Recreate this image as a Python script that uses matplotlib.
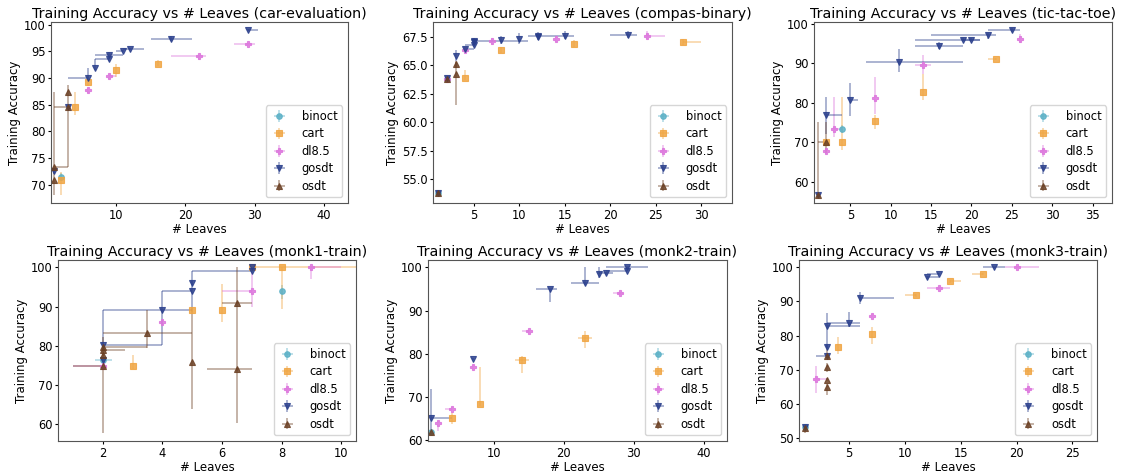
import matplotlib
matplotlib.use("Agg")
import matplotlib.pyplot as plt
from matplotlib.colors import to_rgba
import numpy as np

methods = ["binoct", "cart", "dl8.5", "gosdt", "osdt"]
colors = ["#5ab0c6", "#f0a542", "#dd76dd", "#2a3f8c", "#6b4024"]
markers = ["o", "s", "P", "v", "^"]
msizes = [4, 4, 5, 4, 4]

# rows: (method, leaves, accuracy, x_low, x_high, y_low, y_high)
car_rows = [
    ("binoct", 2, 71.5, 2, 2, 70.8, 72.3),
    ("cart", 2, 70.9, 2, 2, 68.1, 72.4),
    ("cart", 4, 84.6, 4, 4, 83.0, 87.3),
    ("cart", 6, 89.3, 6, 6, 88.5, 90.5),
    ("cart", 10, 91.6, 10, 10, 90.2, 92.6),
    ("cart", 16, 92.7, 16, 16, 92.2, 93.4),
    ("dl8.5", 6, 87.7, 6, 6, 87.2, 88.2),
    ("dl8.5", 9, 90.3, 9, 10, 89.9, 90.8),
    ("dl8.5", 22, 94.1, 18, 23, 93.4, 94.4),
    ("dl8.5", 29, 96.3, 27, 30, 96.0, 96.6),
    ("gosdt", 1, 72.6, 1, 1, 72.0, 73.2),
    ("gosdt", 3, 84.6, 3, 3, 84.3, 84.9),
    ("gosdt", 6, 90.1, 3, 6, 89.7, 91.9),
    ("gosdt", 7, 91.9, 7, 7, 91.5, 93.5),
    ("gosdt", 9, 93.6, 7, 9, 93.2, 94.0),
    ("gosdt", 9, 94.4, 7, 11, 94.0, 94.8),
    ("gosdt", 11, 95.1, 10, 11, 94.9, 95.3),
    ("gosdt", 12, 95.5, 11, 14, 95.3, 95.7),
    ("gosdt", 18, 97.4, 15, 21, 97.0, 97.8),
    ("gosdt", 29, 99.0, 29, 30.5, 98.8, 99.2),
    ("osdt", 1, 70.9, 1, 1, 68.1, 87.4),
    ("osdt", 1, 73.3, 1, 3, 73.3, 73.3),
    ("osdt", 3, 84.6, 1, 3, 84.6, 84.6),
    ("osdt", 3, 87.3, 3, 3, 73.3, 88.7),
]

compas_rows = [
    ("binoct", 1, 53.8, 1, 1, 53.6, 54.0),
    ("binoct", 2, 63.8, 2, 2, 63.6, 64.0),
    ("cart", 4, 63.9, 4, 4, 63.7, 64.6),
    ("cart", 8, 66.35, 8, 8, 66.1, 66.6),
    ("cart", 16, 66.85, 16, 16, 66.6, 67.2),
    ("cart", 28, 67.0, 28, 30, 66.8, 67.3),
    ("dl8.5", 2, 63.8, 2, 2, 63.6, 64.0),
    ("dl8.5", 4, 66.35, 4, 4, 66.2, 66.5),
    ("dl8.5", 7, 67.1, 7, 7, 66.8, 67.4),
    ("dl8.5", 14, 67.3, 14, 14, 67.0, 67.6),
    ("dl8.5", 24, 67.55, 24, 26, 67.3, 68.0),
    ("gosdt", 1, 53.8, 1, 1, 53.6, 54.0),
    ("gosdt", 2, 63.85, 2, 2, 63.5, 64.0),
    ("gosdt", 3, 65.8, 3, 3, 65.4, 66.3),
    ("gosdt", 4, 66.4, 4, 5, 66.2, 66.6),
    ("gosdt", 5, 66.75, 4, 5, 66.6, 67.0),
    ("gosdt", 5, 67.0, 5, 5, 66.8, 67.3),
    ("gosdt", 5, 67.15, 5, 11, 67.0, 67.4),
    ("gosdt", 8, 67.25, 8, 8, 66.9, 67.6),
    ("gosdt", 10, 67.35, 10, 10, 66.9, 67.8),
    ("gosdt", 12, 67.45, 12, 12, 67.2, 67.8),
    ("gosdt", 12, 67.6, 11, 16, 67.4, 67.9),
    ("gosdt", 15, 67.6, 15, 15, 67.3, 68.0),
    ("gosdt", 22, 67.7, 20, 23, 67.4, 68.0),
    ("osdt", 1, 53.75, 1, 1, 53.5, 54.0),
    ("osdt", 2, 63.75, 2, 2, 63.4, 64.0),
    ("osdt", 3, 64.2, 3, 3, 61.5, 65.3),
    ("osdt", 3, 65.1, 3, 3, 64.8, 65.4),
]

ttt_rows = [
    ("binoct", 4, 73.4, 4, 4, 72.5, 74.3),
    ("cart", 2, 70.1, 2, 2, 69.5, 70.5),
    ("cart", 4, 70.1, 4, 4, 68.0, 81.4),
    ("cart", 8, 75.5, 8, 8, 73.5, 77.0),
    ("cart", 14, 82.7, 14, 14, 80.8, 87.2),
    ("cart", 23, 91.1, 22, 23, 90.9, 91.4),
    ("dl8.5", 2, 67.8, 2, 2, 67.0, 68.5),
    ("dl8.5", 3, 73.4, 3, 4, 71.3, 81.4),
    ("dl8.5", 8, 81.3, 8, 8, 77.2, 86.6),
    ("dl8.5", 14, 89.5, 13, 15, 87.3, 92.0),
    ("dl8.5", 26, 96.0, 26, 26, 95.0, 97.3),
    ("gosdt", 1, 56.8, 1, 1, 56.3, 57.3),
    ("gosdt", 2, 76.8, 2, 4, 72.0, 81.5),
    ("gosdt", 5, 80.6, 5, 6, 76.7, 85.1),
    ("gosdt", 11, 90.2, 7, 19, 87.8, 93.7),
    ("gosdt", 16, 94.3, 13, 19, 93.5, 95.3),
    ("gosdt", 19, 95.9, 13, 21, 95.5, 96.3),
    ("gosdt", 20, 95.9, 19, 21, 95.6, 96.3),
    ("gosdt", 22, 97.1, 15, 23, 96.0, 97.6),
    ("gosdt", 25, 98.4, 22, 26, 98.0, 98.8),
    ("osdt", 1, 56.6, 1, 1, 56.0, 75.2),
    ("osdt", 2, 70.1, 1, 2, 67.2, 75.2),
]

monk1_rows = [
    ("binoct", 2, 76.4, 1.75, 2.3, 76.0, 76.8),
    ("binoct", 8, 94.0, 8, 8, 92.0, 95.5),
    ("cart", 3, 74.8, 3, 3, 73.9, 77.7),
    ("cart", 5, 89.0, 5, 5, 88.5, 89.5),
    ("cart", 6, 89.0, 6, 6, 86.0, 95.8),
    ("cart", 7, 100.0, 7, 7, 99.5, 100.0),
    ("cart", 8, 100.0, 7, 11, 89.4, 100.0),
    ("dl8.5", 2, 74.7, 1, 2, 74.5, 75.0),
    ("dl8.5", 4, 86.0, 4, 4, 85.5, 86.5),
    ("dl8.5", 7, 93.9, 6, 7, 89.9, 98.8),
    ("dl8.5", 9, 100.0, 9, 10, 97.0, 100.0),
    ("gosdt", 2, 76.4, 2, 2, 76.0, 77.0),
    ("gosdt", 2, 80.1, 2, 4, 80.1, 89.0),
    ("gosdt", 4, 89.0, 2, 5, 80.1, 94.0),
    ("gosdt", 5, 94.0, 4, 5, 89.0, 99.0),
    ("gosdt", 5, 96.0, 5, 5, 95.5, 96.5),
    ("gosdt", 7, 99.0, 5, 7, 98.8, 100.0),
    ("gosdt", 7, 100.0, 7, 7, 99.8, 100.0),
    ("osdt", 2, 74.7, 1, 2, 57.6, 82.2),
    ("osdt", 2, 77.7, 2, 2, 77.4, 78.0),
    ("osdt", 2, 78.8, 2, 2.75, 78.5, 79.2),
    ("osdt", 2, 79.7, 2, 3.5, 79.5, 80.0),
    ("osdt", 3.5, 83.3, 2, 5, 79.5, 89.0),
    ("osdt", 5, 75.8, 5, 5, 63.9, 89.0),
    ("osdt", 6.5, 90.9, 6, 7, 60.1, 100.0),
    ("osdt", 6.5, 73.9, 5.5, 7, 73.5, 74.3),
]

monk2_rows = [
    ("binoct", 1, 61.8, 1, 1, 61.3, 62.3),
    ("cart", 4, 65.2, 4, 4, 63.8, 66.5),
    ("cart", 8, 68.4, 8, 8, 67.8, 77.0),
    ("cart", 14, 78.5, 13, 15, 75.5, 79.5),
    ("cart", 23, 83.7, 22, 24, 81.4, 85.3),
    ("dl8.5", 2, 64.0, 2, 2, 62.0, 64.5),
    ("dl8.5", 4, 67.3, 3, 4, 67.0, 67.7),
    ("dl8.5", 7, 77.0, 7, 7, 76.5, 77.5),
    ("dl8.5", 15, 85.2, 14, 15, 84.8, 85.6),
    ("dl8.5", 28, 94.0, 27, 28.5, 93.7, 94.3),
    ("gosdt", 1, 65.2, 1, 4, 61.5, 71.8),
    ("gosdt", 7, 78.8, 7, 7, 78.5, 79.1),
    ("gosdt", 18, 94.9, 16, 19, 91.9, 95.1),
    ("gosdt", 23, 96.3, 21, 25, 96.0, 100.0),
    ("gosdt", 25, 98.5, 25, 25, 97.5, 100.0),
    ("gosdt", 26, 98.6, 25, 27, 98.3, 98.9),
    ("gosdt", 29, 99.2, 26, 29, 98.9, 99.5),
    ("gosdt", 29, 100.0, 26, 32, 99.8, 100.0),
    ("osdt", 1, 61.8, 1, 1, 61.3, 62.3),
]

monk3_rows = [
    ("binoct", 1, 53.2, 1, 1, 52.8, 53.6),
    ("cart", 4, 76.6, 4, 4, 74.5, 79.5),
    ("cart", 7, 80.5, 7, 7, 77.5, 82.5),
    ("cart", 11, 91.8, 10, 11, 91.3, 92.3),
    ("cart", 14, 95.9, 14, 15, 95.4, 96.4),
    ("cart", 17, 97.9, 16, 17, 97.6, 98.2),
    ("dl8.5", 2, 67.3, 2, 3, 63.1, 71.1),
    ("dl8.5", 7, 85.8, 7, 7, 85.4, 86.2),
    ("dl8.5", 13, 93.9, 12, 14, 93.6, 94.2),
    ("dl8.5", 20, 100.0, 19, 22, 99.8, 100.0),
    ("gosdt", 1, 53.4, 1, 1, 53.0, 53.8),
    ("gosdt", 3, 74.1, 2, 3, 73.8, 74.5),
    ("gosdt", 3, 76.8, 3, 3, 76.3, 77.3),
    ("gosdt", 3, 82.9, 3, 6, 76.0, 86.7),
    ("gosdt", 5, 83.8, 3, 6, 82.5, 86.8),
    ("gosdt", 6, 90.9, 6, 9, 89.3, 92.8),
    ("gosdt", 12, 97.0, 12, 13, 96.6, 97.4),
    ("gosdt", 13, 98.0, 12, 13, 97.6, 98.4),
    ("gosdt", 18, 100.0, 17, 19, 99.7, 100.0),
    ("osdt", 1, 52.9, 1, 1, 51.5, 53.5),
    ("osdt", 3, 64.9, 3, 3, 62.5, 66.0),
    ("osdt", 3, 67.1, 3, 3, 66.6, 67.6),
    ("osdt", 3, 70.7, 3, 3, 69.5, 72.0),
    ("osdt", 3, 74.1, 3, 3, 73.5, 76.0),
]

datasets = ["car-evaluation", "compas-binary", "tic-tac-toe",
            "monk1-train", "monk2-train", "monk3-train"]
all_rows = [car_rows, compas_rows, ttt_rows, monk1_rows, monk2_rows, monk3_rows]

# axes boxes in pixels: left, top, right, bottom
W, H = 1121, 474
boxes = [(51, 22, 348, 203), (433, 22, 732, 203), (814, 22, 1112, 203),
         (58, 260, 356, 441), (428, 260, 727, 441), (799, 260, 1097, 441)]
xlims = [(0.6, 43.5), (0.5, 33.4), (0.5, 37.4), (0.5, 10.5), (0.6, 43.3), (0.5, 27.2)]
ylims = [(66.6, 100.5), (52.9, 68.8), (54.7, 100.4), (55.6, 101.9), (59.8, 101.7), (49.2, 102.1)]
xticks = [[10, 20, 30, 40], [5, 10, 15, 20, 25, 30], [5, 10, 15, 20, 25, 30, 35],
          [2, 4, 6, 8, 10], [10, 20, 30, 40], [5, 10, 15, 20, 25]]
yticks = [[70, 75, 80, 85, 90, 95, 100], [55.0, 57.5, 60.0, 62.5, 65.0, 67.5],
          [60, 70, 80, 90, 100], [60, 70, 80, 90, 100], [60, 70, 80, 90, 100],
          [50, 60, 70, 80, 90, 100]]

fig = plt.figure(figsize=(W / 100, H / 100), dpi=100)

for i in range(6):
    l, t, r, b = boxes[i]
    ax = fig.add_axes([l / W, (H - b) / H, (r - l) / W, (b - t) / H])
    rows = all_rows[i]
    for m, c, mk, ms in zip(methods, colors, markers, msizes):
        sel = [row[1:] for row in rows if row[0] == m]
        arr = np.array(sel, dtype=float)
        x, y, xlo, xhi, ylo, yhi = arr.T
        ax.errorbar(x, y, xerr=[x - xlo, xhi - x], yerr=[y - ylo, yhi - y],
                    fmt=mk, color=to_rgba(c, 0.85), ecolor=to_rgba(c, 0.5),
                    ms=ms, mew=0.8, elinewidth=1.1, label=m)
    ax.set_xlim(xlims[i])
    ax.set_ylim(ylims[i])
    ax.set_xticks(xticks[i])
    ax.set_yticks(yticks[i])
    if i == 1:
        ax.set_yticklabels(["%.1f" % v for v in yticks[i]])
    ax.tick_params(labelsize=8.3, length=2.5, pad=1.5)
    for s in ax.spines.values():
        s.set_color("#555555")
    ax.set_title("Training Accuracy vs # Leaves (%s)" % datasets[i], fontsize=10.3, pad=3)
    ax.set_xlabel("# Leaves", fontsize=8.5, labelpad=1)
    ax.set_ylabel("Training Accuracy", fontsize=8.5, labelpad=2)
    ax.legend(loc="lower right", fontsize=8.3, handlelength=1.5,
              handletextpad=1.2, labelspacing=0.38)

fig.savefig("out.png", dpi=100)
